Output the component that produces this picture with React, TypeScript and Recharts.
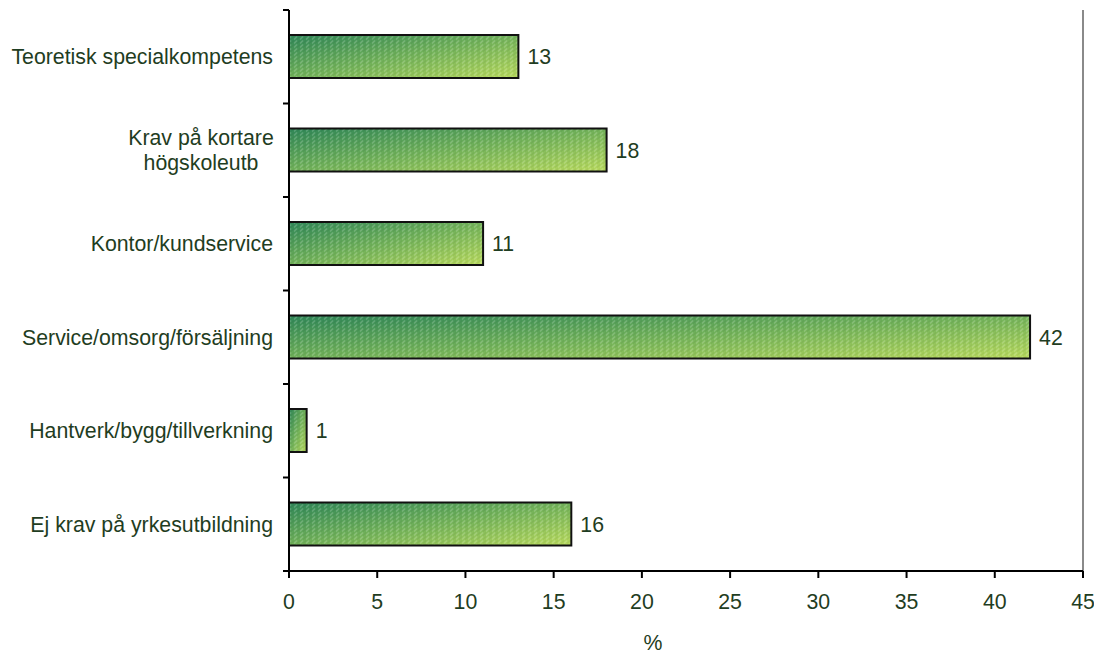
import {
  Bar,
  BarChart,
  LabelList,
  ReferenceLine,
  XAxis,
  YAxis,
} from 'recharts';

const categories = [
  'Teoretisk specialkompetens',
  'Krav på kortare\nhögskoleutb',
  'Kontor/kundservice',
  'Service/omsorg/försäljning',
  'Hantverk/bygg/tillverkning',
  'Ej krav på yrkesutbildning',
];
const shares = [13, 18, 11, 42, 1, 16];
const xTicks = [0, 5, 10, 15, 20, 25, 30, 35, 40, 45];

const data = categories.map((name, i) => ({ name, value: shares[i] }));

const FONT = '"Liberation Sans", Arial, sans-serif';
const TEXT = '#1f3d22';
const FS = 21.3;

function CategoryTick(props: any) {
  const { x, y, payload, index, visibleTicksCount } = props;
  const half = payload.offset ?? 0;
  const axisX = x + 16;
  const top = payload.coordinate - half;
  const lines = String(payload.value).split('\n');
  const isLast = index === visibleTicksCount - 1;
  return (
    <g>
      <line x1={axisX - 6} x2={axisX} y1={top} y2={top} stroke="#000" strokeWidth={2} />
      {isLast && (
        <line x1={axisX - 6} x2={axisX} y1={top + half * 2} y2={top + half * 2} stroke="#000" strokeWidth={2} />
      )}
      {lines.length === 1 ? (
        <text x={x} y={y + 7.5} textAnchor="end" fill={TEXT} fontSize={FS} fontFamily={FONT}>
          {lines[0]}
        </text>
      ) : (
        lines.map((ln, i) => (
          <text
            key={i}
            x={x - 72}
            y={y + 7.5 + (i - (lines.length - 1) / 2) * 25}
            textAnchor="middle"
            fill={TEXT}
            fontSize={FS}
            fontFamily={FONT}
          >
            {ln}
          </text>
        ))
      )}
    </g>
  );
}

function TexturedBar(props: any) {
  const { x, y, width, height } = props;
  if (!width || !height) return null;
  return (
    <g>
      <rect x={x} y={y} width={width} height={height} fill="url(#barGrad)" />
      <rect x={x} y={y} width={width} height={height} fill="url(#barTex)" />
      <rect x={x} y={y} width={width} height={height} fill="none" stroke="#111" strokeWidth={2} />
    </g>
  );
}

export default function App() {
  return (
    <div style={{ position: 'absolute', left: 0, top: 0, background: '#fff' }}>
      <BarChart
        width={1094}
        height={655}
        data={data}
        layout="vertical"
        margin={{ top: 10, right: 11, left: 0, bottom: 0 }}
        barSize={43}
      >
        <defs>
          <linearGradient id="barGrad" x1="0" y1="0" x2="1" y2="1">
            <stop offset="0%" stopColor="#2f8758" />
            <stop offset="50%" stopColor="#72b25a" />
            <stop offset="100%" stopColor="#b8da5e" />
          </linearGradient>
          <pattern id="barTex" width="6" height="4" patternUnits="userSpaceOnUse">
            <path d="M0 3.5 L3 0.5" stroke="#ffffff" strokeOpacity={0.18} strokeWidth={1.4} />
            <path d="M3 3.5 L6 0.5" stroke="#000000" strokeOpacity={0.05} strokeWidth={1.4} />
          </pattern>
        </defs>
        <XAxis
          type="number"
          domain={[0, 45]}
          ticks={xTicks}
          interval={0}
          height={84}
          tickSize={7}
          tickMargin={16}
          axisLine={{ stroke: '#000', strokeWidth: 2 }}
          tickLine={{ stroke: '#000', strokeWidth: 2 }}
          tick={{ fill: TEXT, fontSize: FS, fontFamily: FONT }}
          label={{
            value: '%',
            position: 'insideBottom',
            offset: 5,
            dx: -33,
            fill: TEXT,
            fontSize: FS,
            fontFamily: FONT,
          }}
        />
        <XAxis
          xAxisId="top"
          orientation="top"
          type="number"
          domain={[0, 45]}
          height={0}
          tick={false}
          tickLine={false}
          axisLine={{ stroke: '#8a8a8a', strokeWidth: 2 }}
        />
        <YAxis
          type="category"
          dataKey="name"
          width={289}
          interval={0}
          tickSize={0}
          tickMargin={16}
          tickLine={false}
          axisLine={{ stroke: '#000', strokeWidth: 2 }}
          tick={<CategoryTick />}
        />
        <ReferenceLine x={45} stroke="#8a8a8a" strokeWidth={2} />
        <Bar dataKey="value" shape={<TexturedBar />} isAnimationActive={false}>
          <LabelList
            dataKey="value"
            position="right"
            offset={9}
            fill={TEXT}
            fontSize={FS}
            fontFamily={FONT}
          />
        </Bar>
      </BarChart>
    </div>
  );
}
